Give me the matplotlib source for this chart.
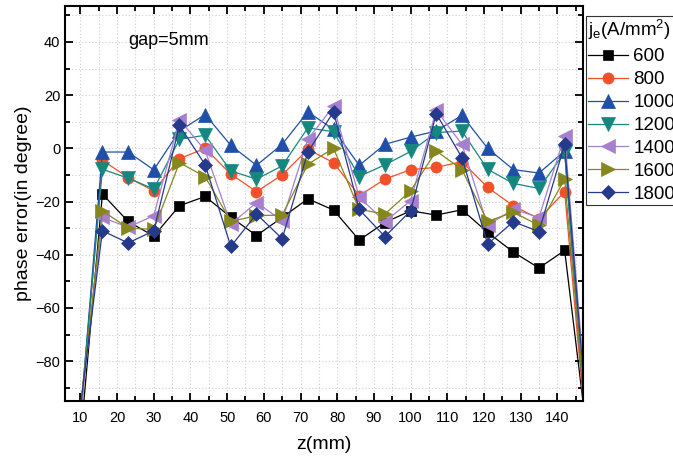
import numpy as np
import matplotlib
matplotlib.use("Agg")
import matplotlib.pyplot as plt
from matplotlib.ticker import MultipleLocator

plt.rcParams['font.family'] = ['Liberation Sans', 'DejaVu Sans']
plt.rcParams['mathtext.fontset'] = 'custom'
plt.rcParams['mathtext.rm'] = 'Liberation Sans'
plt.rcParams['mathtext.it'] = 'Liberation Sans'

# positions along the undulator (mm)
z = [9, 16, 23, 30, 37, 44, 51, 58, 65, 72, 79, 86, 93, 100, 107, 114, 121, 128, 135, 142, 149]

# phase error (degree) for each current density je (A/mm^2)
je600 = [-125, -17.2, -27.5, -33, -21.6, -18.1, -25.9, -32.8, -26, -19, -23.2, -34.5, -27.9,
         -23.5, -25.1, -23.1, -31.6, -39, -45, -38.4, -118]
je800 = [-120, -4.5, -11, -16, -3.9, 0, -9.7, -16.3, -10, -0.4, -5.4, -17.8, -11.6,
         -8, -7.2, -5, -14.7, -21.6, -26.5, -16.3, -125]
je1000 = [-118, -1.4, -1.4, -8.1, 6.5, 12.7, 1.1, -6.4, 1.5, 13.7, 7.1, -6.4, 1.5,
          4.2, 6.5, 12.4, 0, -8, -9.3, -1, -128]
je1200 = [-115, -7.9, -11.2, -15.3, 3.4, 4.9, -8.5, -11.6, -6.6, 7.7, 6.2, -10.6, -6.2,
          -1.2, 5.9, 6.5, -7.9, -13.2, -15.1, -1.5, -125]
je1400 = [-112, -26, -29.7, -25.3, 10.8, -0.8, -28.5, -20.4, -27.2, 3.4, 15.8, -18.3, -27.6,
          -19.7, 14.3, 1.5, -29, -22.9, -26, 4.8, -115]
je1600 = [-110, -23.5, -30, -30.5, -5.4, -10.7, -27.5, -25.3, -25.1, -6, 0, -23, -24.7,
          -16, -1, -8, -27.5, -24, -29, -11.6, -120]
je1800 = [-108, -31, -35.6, -31, 8.6, -6.2, -36.9, -24.7, -34, -1.4, 13.7, -23, -33.2,
          -23.5, 13, -3.5, -36, -27.6, -31.3, 1.5, -118]

labels = ['600', '800', '1000', '1200', '1400', '1600', '1800']
series = [je600, je800, je1000, je1200, je1400, je1600, je1800]
colors = ['#000000', '#f2502a', '#1f4fa8', '#16877f', '#a77fcf', '#86861f', '#263a8c']
markers = ['s', 'o', '^', 'v', '<', '>', 'D']
msizes = [6.5, 8, 9.5, 9.5, 9.5, 9.5, 7.5]

fig = plt.figure(figsize=(6.73, 4.57), dpi=100)
ax = fig.add_axes([65 / 673, 1 - 401 / 457, 518 / 673, 395 / 457])

for y, c, m, ms, lab in zip(series, colors, markers, msizes, labels):
    ax.plot(z, y, color=c, marker=m, markersize=ms, lw=0.9, label=lab,
            markeredgewidth=0.5, markeredgecolor=c)

ax.set_xlim(5.8, 147)
ax.set_ylim(-95, 53.5)

ax.xaxis.set_major_locator(MultipleLocator(10))
ax.xaxis.set_minor_locator(MultipleLocator(5))
ax.yaxis.set_major_locator(MultipleLocator(20))
ax.yaxis.set_minor_locator(MultipleLocator(10))

ax.grid(which='both', color='#cfcfcf', linestyle=(0, (1, 2)), lw=0.8)
ax.set_axisbelow(True)

ax.tick_params(which='both', direction='in', top=True, right=True, width=1.3, labelsize=10.5)
ax.tick_params(which='major', length=6)
ax.tick_params(which='minor', length=3.5)
ax.tick_params(axis='x', pad=7)
for s in ax.spines.values():
    s.set_linewidth(1.5)

ax.set_xlabel('z(mm)', fontsize=14, labelpad=8)
ax.set_ylabel('phase error(in degree)', fontsize=14, labelpad=2)

ax.text(23, 40.5, 'gap=5mm', fontsize=13, ha='left', va='center')

leg = ax.legend(loc='upper left', bbox_to_anchor=(586 / 673, 1 - 16 / 457),
                bbox_transform=fig.transFigure, borderaxespad=0, fontsize=13.5,
                title=r'j$_\mathregular{e}$(A/mm$^\mathregular{2}$)', title_fontsize=13.5,
                alignment='left', fancybox=False, edgecolor='#333333', framealpha=1,
                handlelength=2.1, handletextpad=0.3, labelspacing=0.31, borderpad=0.12)
leg.get_frame().set_linewidth(0.8)

fig.savefig('out.png', dpi=100)
